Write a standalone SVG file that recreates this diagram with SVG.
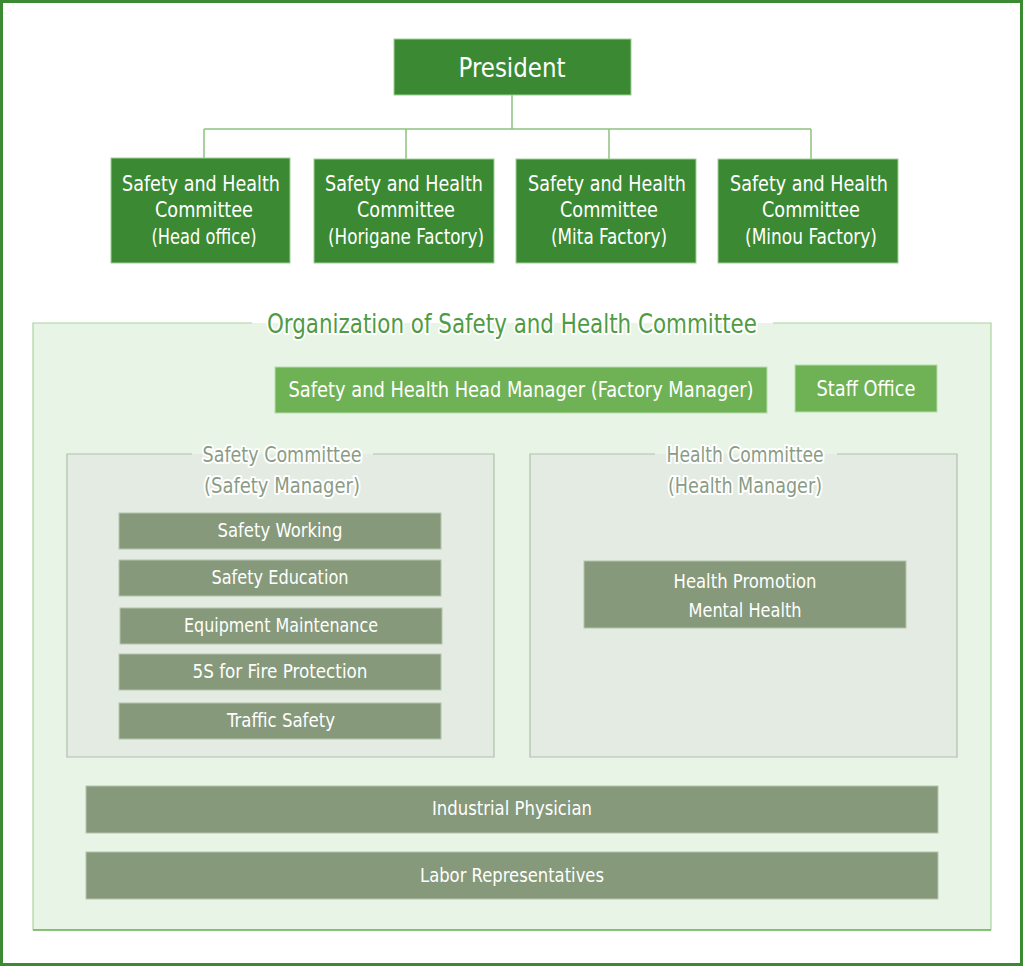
<svg xmlns="http://www.w3.org/2000/svg" width="1024" height="967" viewBox="0 0 1024 967">
<style>
text{font-family:"DejaVu Sans Condensed","Roboto Condensed","Liberation Sans Narrow",Roboto,sans-serif;text-anchor:middle;dominant-baseline:central}
.top{fill:#3b8a33;stroke:#9fcf95;stroke-width:1}
.mid{fill:#6fb256;stroke:#b8dcae;stroke-width:1}
.item{fill:#86997b;stroke:#b6c4ae;stroke-width:1}
.w{fill:#fff;font-size:21px}
.wl{fill:#fff;font-size:19px}
.conn{stroke:#8cc27f;stroke-width:1.5;fill:none}
.halo{paint-order:stroke;stroke:#fff;stroke-width:4px;stroke-linejoin:round}
.subf{fill:#e4ebe3}
.subs{fill:none;stroke:#b0c1ac;stroke-width:1.2}
.subt{fill:#8a9c85;font-size:21px}
</style>
<rect x="1.5" y="1.5" width="1020" height="963" fill="#fff" stroke="#3b8a33" stroke-width="3"/>

<g id="connectors">
<path class="conn" d="M512 95V129M204 129H811M204 129V158M406 129V159M609 129V159M811 129V159"/>
<path class="conn" d="M767 390H795"/>
</g>

<g id="president">
<rect class="top" x="394" y="39" width="237" height="56"/>
<text class="w" x="512" y="67" style="font-size:27px" textLength="107" lengthAdjust="spacingAndGlyphs">President</text>
</g>

<g id="shc-head">
<rect class="top" x="111" y="158" width="179" height="105"/>
<text class="w" x="201" y="184" textLength="158" lengthAdjust="spacingAndGlyphs">Safety and Health</text>
<text class="w" x="204" y="210" textLength="98" lengthAdjust="spacingAndGlyphs">Committee</text>
<text class="w" x="204" y="237" textLength="105" lengthAdjust="spacingAndGlyphs">(Head office)</text>
</g>
<g id="shc-horigane">
<rect class="top" x="314" y="159" width="180" height="104"/>
<text class="w" x="404" y="184" textLength="158" lengthAdjust="spacingAndGlyphs">Safety and Health</text>
<text class="w" x="406" y="210" textLength="98" lengthAdjust="spacingAndGlyphs">Committee</text>
<text class="w" x="406" y="237" textLength="156" lengthAdjust="spacingAndGlyphs">(Horigane Factory)</text>
</g>
<g id="shc-mita">
<rect class="top" x="516" y="159" width="180" height="104"/>
<text class="w" x="607" y="184" textLength="158" lengthAdjust="spacingAndGlyphs">Safety and Health</text>
<text class="w" x="609" y="210" textLength="98" lengthAdjust="spacingAndGlyphs">Committee</text>
<text class="w" x="609" y="237" textLength="116" lengthAdjust="spacingAndGlyphs">(Mita Factory)</text>
</g>
<g id="shc-minou">
<rect class="top" x="718" y="159" width="180" height="104"/>
<text class="w" x="809" y="184" textLength="158" lengthAdjust="spacingAndGlyphs">Safety and Health</text>
<text class="w" x="811" y="210" textLength="98" lengthAdjust="spacingAndGlyphs">Committee</text>
<text class="w" x="811" y="237" textLength="132" lengthAdjust="spacingAndGlyphs">(Minou Factory)</text>
</g>

<g id="organization">
<rect x="33" y="323" width="958" height="607" fill="#e7f4e6"/>
<path d="M252 323H33V930M991 930V323H773" fill="none" stroke="#a9d59f" stroke-width="1.2"/>
<path d="M33 930H991" stroke="#5fae4f" stroke-width="1.5"/>
<text class="halo" x="512" y="323" style="fill:#4f9b44;font-size:27px" textLength="490" lengthAdjust="spacingAndGlyphs">Organization of Safety and Health Committee</text>
</g>

<g id="head-manager">
<rect class="mid" x="275" y="367" width="492" height="46"/>
<text class="w" x="521" y="390" textLength="465" lengthAdjust="spacingAndGlyphs">Safety and Health Head Manager (Factory Manager)</text>
</g>
<g id="staff-office">
<rect class="mid" x="795" y="365" width="142" height="47"/>
<text class="w" x="866" y="389" textLength="99" lengthAdjust="spacingAndGlyphs">Staff Office</text>
</g>

<g id="safety-committee">
<rect class="subf" x="67" y="454" width="427" height="303"/>
<path class="subs" d="M192 454H67V757H494V454H373"/>
<text class="subt halo" x="282" y="455" textLength="159" lengthAdjust="spacingAndGlyphs">Safety Committee</text>
<text class="subt halo" x="282" y="486" textLength="156" lengthAdjust="spacingAndGlyphs">(Safety Manager)</text>
</g>
<g id="safety-working"><rect class="item" x="119" y="513" width="322" height="36"/><text class="wl" x="280" y="530" textLength="125" lengthAdjust="spacingAndGlyphs">Safety Working</text></g>
<g id="safety-education"><rect class="item" x="119" y="560" width="322" height="36"/><text class="wl" x="280" y="577" textLength="137" lengthAdjust="spacingAndGlyphs">Safety Education</text></g>
<g id="equipment-maintenance"><rect class="item" x="120" y="608" width="322" height="36"/><text class="wl" x="281" y="625" textLength="194" lengthAdjust="spacingAndGlyphs">Equipment Maintenance</text></g>
<g id="fire-protection"><rect class="item" x="119" y="654" width="322" height="36"/><text class="wl" x="280" y="671" textLength="175" lengthAdjust="spacingAndGlyphs">5S for Fire Protection</text></g>
<g id="traffic-safety"><rect class="item" x="119" y="703" width="322" height="36"/><text class="wl" x="281" y="720" textLength="108" lengthAdjust="spacingAndGlyphs">Traffic Safety</text></g>

<g id="health-committee">
<rect class="subf" x="530" y="454" width="427" height="303"/>
<path class="subs" d="M655 454H530V757H957V454H837"/>
<text class="subt halo" x="745" y="455" textLength="157" lengthAdjust="spacingAndGlyphs">Health Committee</text>
<text class="subt halo" x="745" y="486" textLength="154" lengthAdjust="spacingAndGlyphs">(Health Manager)</text>
</g>
<g id="health-promotion">
<rect class="item" x="584" y="561" width="322" height="67"/>
<text class="wl" x="745" y="581" textLength="143" lengthAdjust="spacingAndGlyphs">Health Promotion</text>
<text class="wl" x="745" y="610" textLength="113" lengthAdjust="spacingAndGlyphs">Mental Health</text>
</g>

<g id="industrial-physician"><rect class="item" x="86" y="786" width="852" height="47"/><text class="wl" x="512" y="808" textLength="160" lengthAdjust="spacingAndGlyphs">Industrial Physician</text></g>
<g id="labor-representatives"><rect class="item" x="86" y="852" width="852" height="47"/><text class="wl" x="512" y="875" textLength="184" lengthAdjust="spacingAndGlyphs">Labor Representatives</text></g>
</svg>
